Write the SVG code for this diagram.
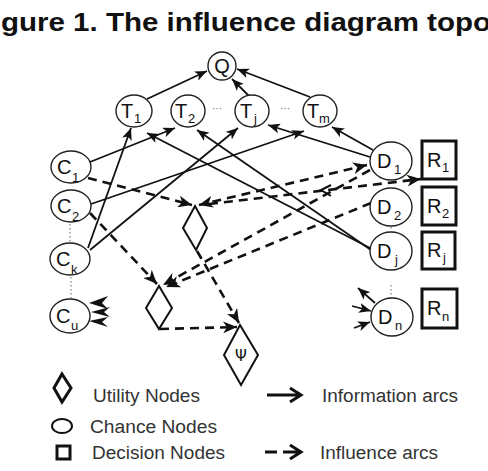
<svg xmlns="http://www.w3.org/2000/svg" width="488" height="471" viewBox="0 0 488 471">
<defs>
<style>
.nd{fill:#fff;stroke:#222;stroke-width:1.4}
.rb{fill:#fff;stroke:#111;stroke-width:3}
.dm{fill:#fff;stroke:#111;stroke-width:2}
.lb{font-family:"Liberation Sans",Arial,sans-serif;font-size:20px;fill:#111}
.sb{font-family:"Liberation Sans",Arial,sans-serif;font-size:13px;fill:#111}
.lg{font-family:"Liberation Sans",Arial,sans-serif;font-size:18px;fill:#333}
.so{fill:none;stroke:#111;stroke-width:1.8}
.da{fill:none;stroke:#111;stroke-width:2.6;stroke-dasharray:9 6}
.dt{fill:none;stroke:#888;stroke-width:1.3;stroke-dasharray:1.5 2.5}
</style>
<marker id="arr" markerUnits="userSpaceOnUse" viewBox="0 0 12 10" refX="12" refY="5" markerWidth="12" markerHeight="10" orient="auto"><path d="M0,0 L12,5 L0,10 L3,5 z" fill="#111"/></marker>
<marker id="arrd" markerUnits="userSpaceOnUse" viewBox="0 0 14 12" refX="14" refY="6" markerWidth="14" markerHeight="12" orient="auto-start-reverse"><path d="M0,0 L14,6 L0,12 L4,6 z" fill="#111"/></marker>
</defs>
<rect width="488" height="471" fill="#fff"/>
<text x="1" y="31" font-family="'Liberation Sans',Arial,sans-serif" font-size="26" font-weight="bold" fill="#111" textLength="490" lengthAdjust="spacingAndGlyphs">gure 1. The influence diagram topo</text>

<g id="connectors">
<path class="so" marker-end="url(#arr)" d="M147,99 L207,71"/>
<path class="so" marker-end="url(#arr)" d="M249,96 L232,79"/>
<path class="so" marker-end="url(#arr)" d="M310,97 L237,69"/>
<path class="so" marker-end="url(#arr)" d="M90,162 L175,128"/>
<path class="so" marker-end="url(#arr)" d="M88,248 L131,128"/>
<path class="so" marker-end="url(#arr)" d="M90,250 L238,128"/>
<path class="so" marker-end="url(#arr)" d="M91,204 L304,131"/>
<path class="so" marker-end="url(#arr)" d="M370,248 L147,133"/>
<path class="so" marker-end="url(#arr)" d="M371,250 L197,130"/>
<path class="so" marker-end="url(#arr)" d="M370,157 L268,125"/>
<path class="so" marker-end="url(#arr)" d="M373,150 L332,127"/>

<path class="da" marker-end="url(#arrd)" d="M88,178 L192,205"/>
<path class="da" marker-start="url(#arrd)" marker-end="url(#arrd)" d="M367,165 L199,205"/>
<path class="da" marker-end="url(#arrd)" d="M209,204 L421,179"/>
<path fill="none" stroke="#111" stroke-width="2" d="M331,185 L321,190 L331,196"/>
<path class="da" marker-end="url(#arrd)" d="M370,170 L163,285"/>
<path class="da" marker-end="url(#arrd)" d="M371,203 L166,287"/>
<path class="da" marker-end="url(#arrd)" d="M90,213 L157,284"/>
<path class="da" marker-end="url(#arrd)" d="M197,251 L239,323"/>
<path class="da" marker-end="url(#arrd)" d="M160,329 L237,327"/>

<polygon fill="#111" points="89,303 108,296 102,303 108,309"/>
<polygon fill="#111" points="91,312 110,307 104,312 110,317"/>
<polygon fill="#111" points="89,321 108,317 102,322 108,327"/>
<path class="so" marker-end="url(#arr)" d="M375,303 L358,288"/>
<path class="so" marker-end="url(#arr)" d="M352,306 L371,311"/>
<path class="so" marker-end="url(#arr)" d="M354,328 L370,322"/>

<path class="dt" d="M70,224 L70,242"/>
<path class="dt" d="M71,277 L71,298"/>
<path class="dt" d="M391,227 L391,231"/>
<path class="dt" d="M391,285 L391,298"/>
</g>

<g id="Q"><circle class="nd" cx="222" cy="66" r="14"/><text class="lb" x="222" y="73" text-anchor="middle">Q</text></g>
<g id="T1"><ellipse class="nd" cx="134" cy="111" rx="18" ry="16"/><text class="lb" x="121" y="118">T</text><text class="sb" x="134" y="123">1</text></g>
<g id="T2"><ellipse class="nd" cx="188" cy="111" rx="17" ry="16"/><text class="lb" x="175" y="118">T</text><text class="sb" x="188" y="123">2</text></g>
<g id="Tj"><ellipse class="nd" cx="252" cy="111" rx="17" ry="16"/><text class="lb" x="240" y="118">T</text><text class="sb" x="254" y="123">j</text></g>
<g id="Tm"><ellipse class="nd" cx="320" cy="111" rx="17" ry="16"/><text class="lb" x="307" y="118">T</text><text class="sb" x="319" y="123">m</text></g>
<text x="212" y="112" font-family="'Liberation Sans',Arial,sans-serif" font-size="10" fill="#666">···</text>
<text x="280" y="112" font-family="'Liberation Sans',Arial,sans-serif" font-size="10" fill="#666">···</text>

<g id="C1"><ellipse class="nd" cx="71" cy="167" rx="20" ry="16"/><text class="lb" x="57" y="174">C</text><text class="sb" x="72" y="182">1</text></g>
<g id="C2"><ellipse class="nd" cx="71" cy="206" rx="20" ry="16"/><text class="lb" x="57" y="213">C</text><text class="sb" x="72" y="221">2</text></g>
<g id="Ck"><ellipse class="nd" cx="70" cy="259" rx="20" ry="16"/><text class="lb" x="56" y="266">C</text><text class="sb" x="71" y="274">k</text></g>
<g id="Cu"><ellipse class="nd" cx="70" cy="316" rx="20" ry="17"/><text class="lb" x="56" y="323">C</text><text class="sb" x="71" y="330">u</text></g>

<g id="D1"><ellipse class="nd" cx="391" cy="161" rx="21" ry="19"/><text class="lb" x="377" y="168">D</text><text class="sb" x="394" y="174">1</text></g>
<g id="D2"><ellipse class="nd" cx="391" cy="207" rx="21" ry="19"/><text class="lb" x="377" y="214">D</text><text class="sb" x="394" y="220">2</text></g>
<g id="Dj"><ellipse class="nd" cx="391" cy="251" rx="21" ry="19"/><text class="lb" x="377" y="258">D</text><text class="sb" x="395" y="264">j</text></g>
<g id="Dn"><ellipse class="nd" cx="392" cy="317" rx="21" ry="19"/><text class="lb" x="378" y="324">D</text><text class="sb" x="395" y="330">n</text></g>

<g id="R1"><rect class="rb" x="422" y="141" width="34" height="38"/><text class="lb" x="427" y="167">R</text><text class="sb" x="442" y="172">1</text></g>
<g id="R2"><rect class="rb" x="422" y="187" width="34" height="38"/><text class="lb" x="427" y="213">R</text><text class="sb" x="442" y="218">2</text></g>
<g id="Rj"><rect class="rb" x="422" y="232" width="33" height="37"/><text class="lb" x="427" y="257">R</text><text class="sb" x="443" y="262">j</text></g>
<g id="Rn"><rect class="rb" x="422" y="289" width="35" height="39"/><text class="lb" x="427" y="315">R</text><text class="sb" x="442" y="321">n</text></g>

<g id="U1"><polygon class="dm" points="195,206 207,228 196,250 183,228"/></g>
<g id="U2"><polygon class="dm" points="159,286 172,308 159,329 146,308"/></g>
<g id="Psi"><polygon class="dm" points="240,325 258,355 241,385 224,355"/><text x="241" y="361" text-anchor="middle" font-family="'DejaVu Sans',sans-serif" font-size="15" fill="#111">Ψ</text></g>

<g id="legend">
<polygon fill="#fff" stroke="#111" stroke-width="3" points="62,374 71,388 62,402 54,388"/>
<text class="lg" x="93" y="402" textLength="107" lengthAdjust="spacingAndGlyphs">Utility Nodes</text>
<path fill="none" stroke="#111" stroke-width="3" d="M267,395 L301,395 M290,388 L301,395 L290,402"/>
<text class="lg" x="322" y="402" textLength="136" lengthAdjust="spacingAndGlyphs">Information arcs</text>
<ellipse fill="#fff" stroke="#111" stroke-width="2" cx="62" cy="426" rx="10" ry="7"/>
<text class="lg" x="90" y="433" textLength="127" lengthAdjust="spacingAndGlyphs">Chance Nodes</text>
<rect fill="#fff" stroke="#111" stroke-width="3" x="57" y="446" width="13" height="13"/>
<text class="lg" x="92" y="459" textLength="133" lengthAdjust="spacingAndGlyphs">Decision Nodes</text>
<path fill="none" stroke="#111" stroke-width="3" d="M265,452 L277,452 M283,452 L300,452 M290,445 L301,452 L290,459"/>
<text class="lg" x="320" y="459" textLength="118" lengthAdjust="spacingAndGlyphs">Influence arcs</text>
</g>
</svg>
